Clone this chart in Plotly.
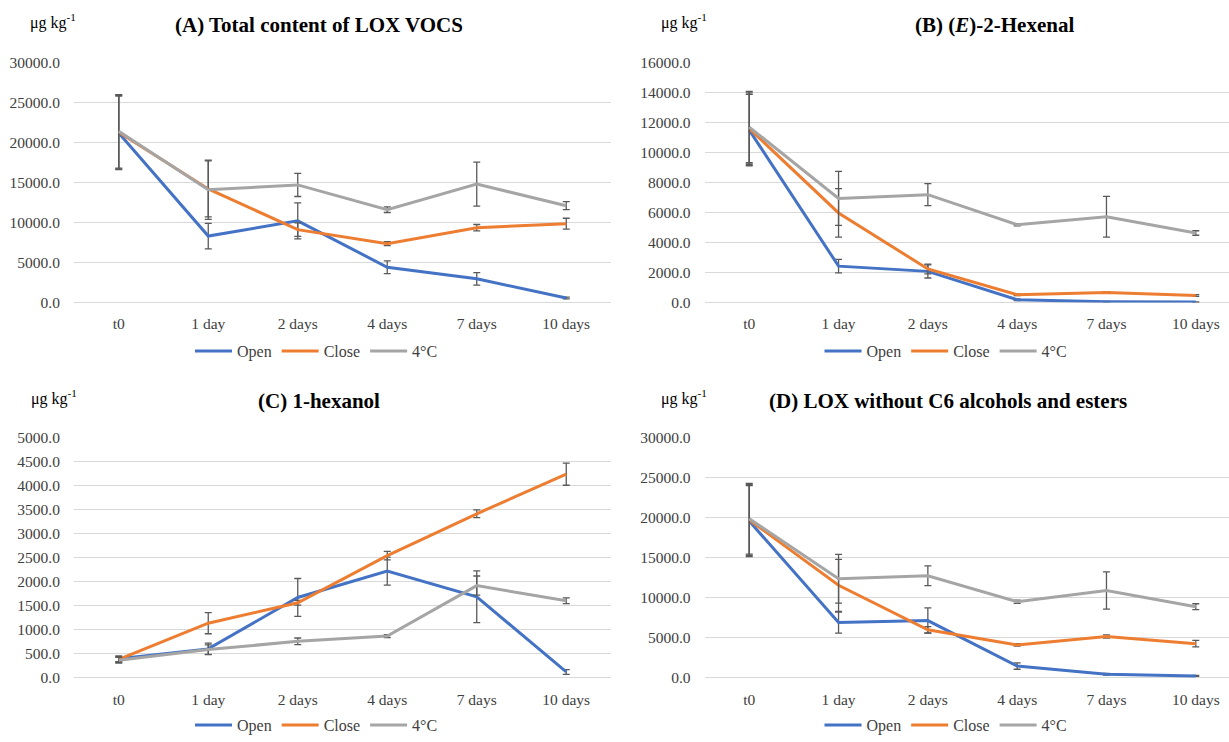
import plotly.graph_objects as go

categories = ["t0", "1 day", "2 days", "4 days", "7 days", "10 days"]
series_names = ["Open", "Close", "4°C"]

# (A) Total content of LOX VOCS
open_A = [21200, 8300, 10200, 4400, 2950, 550]
open_A_err = [4600, 1600, 2250, 800, 780, 100]
close_A = [21300, 14200, 9100, 7350, 9350, 9850]
close_A_err = [4600, 3500, 850, 250, 400, 680]
cold_A = [21400, 14100, 14700, 11600, 14800, 12100]
cold_A_err = [4600, 3700, 1450, 350, 2750, 500]

# (B) (E)-2-Hexenal
open_B = [11500, 2420, 2070, 180, 45, 20]
open_B_err = [2380, 450, 440, 60, 20, 10]
close_B = [11600, 5970, 2230, 510, 660, 460]
close_B_err = [2380, 1620, 330, 50, 60, 60]
cold_B = [11700, 6940, 7190, 5180, 5710, 4630]
cold_B_err = [2380, 1800, 730, 80, 1360, 150]

# (C) 1-hexanol
open_C = [400, 604, 1676, 2225, 1690, 124]
open_C_err = [60, 120, 395, 290, 540, 50]
close_C = [385, 1140, 1566, 2548, 3420, 4244]
close_C_err = [60, 220, 50, 90, 80, 230]
cold_C = [370, 590, 762, 872, 1923, 1607]
cold_C_err = [60, 100, 70, 30, 200, 60]

# (D) LOX without C6 alcohols and esters
open_D = [19600, 6920, 7170, 1480, 450, 250]
open_D_err = [4430, 1320, 1580, 400, 100, 60]
close_D = [19750, 11580, 6015, 4120, 5190, 4285]
close_D_err = [4430, 3250, 400, 150, 200, 410]
cold_D = [19900, 12400, 12770, 9520, 10920, 8900]
cold_D_err = [4430, 3050, 1240, 200, 2330, 370]

titles = ["<b>(A) Total content of LOX VOCS</b>",
          "<b>(B) (<i>E</i>)-2-Hexenal</b>",
          "<b>(C) 1-hexanol</b>",
          "<b>(D) LOX without C6 alcohols and esters</b>"]
y_max = [30000, 16000, 5000, 30000]
y_step = [5000, 2000, 500, 5000]

panels = [
    [(open_A, open_A_err), (close_A, close_A_err), (cold_A, cold_A_err)],
    [(open_B, open_B_err), (close_B, close_B_err), (cold_B, cold_B_err)],
    [(open_C, open_C_err), (close_C, close_C_err), (cold_C, cold_C_err)],
    [(open_D, open_D_err), (close_D, close_D_err), (cold_D, cold_D_err)],
]

colors = ["#4472C4", "#ED7D31", "#A5A5A5"]
W, H = 1229, 742
FONT = "Liberation Serif, Times New Roman, serif"

# layout geometry (pixels)
x_dom_px = [(74, 611), (704.6, 1229), (74, 611), (704.6, 1229)]
x_rng = [(-0.5, 5.5), (-0.5, 5.372), (-0.5, 5.5), (-0.5, 5.372)]
y_dom_px = [(63.3, 305.7), (63.3, 305.7), (442.7, 685.3), (442.7, 685.3)]
title_pos = [(318.5, 25.5), (994, 25.5), (318.5, 405), (948, 405)]
unit_pos = [(28, 21.5), (659, 21.5), (29, 401.5), (659, 401.5)]
legend_pos = [(316.5, 355), (946, 355), (316.5, 733), (946, 733)]

fig = go.Figure()
layout = dict(
    width=W, height=H,
    margin=dict(l=0, r=0, t=0, b=0),
    paper_bgcolor="white", plot_bgcolor="white",
    font=dict(family=FONT, size=15.5, color="#404040"),
    annotations=[],
)

for p in range(4):
    suffix = "" if p == 0 else str(p + 1)
    leg = "legend" if p == 0 else f"legend{p + 1}"
    for s, (vals, errs) in enumerate(panels[p]):
        fig.add_trace(go.Scatter(
            x=categories, y=vals, mode="lines", name=series_names[s],
            line=dict(color=colors[s], width=3),
            error_y=dict(type="data", array=errs, visible=True,
                         color="#595959", thickness=1.3, width=3.5),
            xaxis="x" + suffix, yaxis="y" + suffix, legend=leg,
        ))
    xd = x_dom_px[p]
    yd = y_dom_px[p]
    layout["xaxis" + suffix] = dict(
        domain=[xd[0] / W, xd[1] / W], range=list(x_rng[p]),
        type="category", showgrid=False, zeroline=False, showline=False,
        ticks="outside", ticklen=7, tickcolor="rgba(0,0,0,0)",
        tickfont=dict(family=FONT, size=15.5, color="#404040"),
        anchor="y" + suffix, automargin=False, fixedrange=True,
    )
    layout["yaxis" + suffix] = dict(
        domain=[1 - yd[1] / H, 1 - yd[0] / H], range=[0, y_max[p]],
        dtick=y_step[p], tick0=0, tickformat=".1f",
        showgrid=True, gridcolor="#D9D9D9", gridwidth=1,
        zeroline=True, zerolinecolor="#D9D9D9", zerolinewidth=1,
        showline=False, ticks="outside", ticklen=10, tickcolor="rgba(0,0,0,0)",
        tickfont=dict(family=FONT, size=15.5, color="#404040"),
        anchor="x" + suffix, automargin=False, fixedrange=True,
    )
    lx, ly = legend_pos[p]
    layout[leg] = dict(
        orientation="h", x=lx / W, y=1 - ly / H, xanchor="center", yanchor="middle",
        font=dict(family=FONT, size=16, color="#404040"),
        bgcolor="rgba(0,0,0,0)", itemwidth=37, tracegroupgap=0,
    )
    tx, ty = title_pos[p]
    layout["annotations"].append(dict(
        text=titles[p], x=tx / W, y=1 - ty / H, xref="paper", yref="paper",
        xanchor="center", yanchor="middle", showarrow=False,
        font=dict(family=FONT, size=21, color="#000000"),
    ))
    ux, uy = unit_pos[p]
    layout["annotations"].append(dict(
        text="μg kg<sup>-1</sup>", x=ux / W, y=1 - uy / H, xref="paper", yref="paper",
        xanchor="left", yanchor="middle", showarrow=False,
        font=dict(family=FONT, size=16, color="#000000"),
    ))

fig.update_layout(**layout)
fig.write_html(
    "out.html", config={"displayModeBar": False},
    post_script=("document.documentElement.style.margin='0px';"
                 "document.body.style.margin='0px';"),
)
